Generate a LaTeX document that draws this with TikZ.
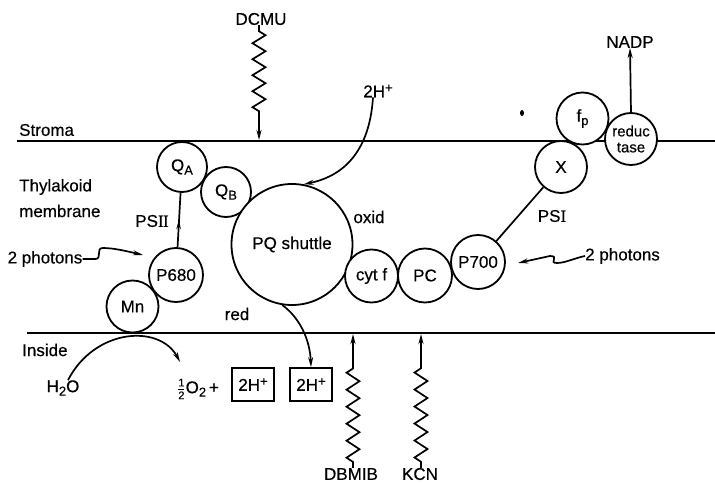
\documentclass[tikz,border=0pt]{standalone}
\usepackage{fontspec}
\setmainfont{Liberation Sans}[FakeBold=0.4]
\newfontfamily\romanfont{Liberation Serif}[FakeBold=0.4]
\usetikzlibrary{arrows.meta,decorations.pathmorphing,decorations.markings}
\newcommand\mysub[1]{\raisebox{-3.5pt}{\fontsize{13}{13}\selectfont #1}}
\newcommand\mysup[1]{\raisebox{5pt}{\fontsize{13}{13}\selectfont #1}}
\begin{document}
\begin{tikzpicture}[x=1pt,y=-1pt,
  every node/.style={font=\fontsize{17}{20}\selectfont, inner sep=0pt},
  circ/.style={draw, circle, fill=white, line width=1.8pt},
  hbox/.style={draw, rectangle, line width=1.7pt, minimum width=42pt, minimum height=33pt},
  ln/.style={line width=1.7pt},
  tip/.style={-{Stealth[length=10pt,width=5pt]}},
  zz/.style={decorate, decoration={zigzag, segment length=#1, amplitude=6.5pt, pre length=6pt, post length=28pt}}
]
\fill[white] (0,0) rectangle (715,484);
\useasboundingbox (0,0) rectangle (715,484);

% membranes
\draw[ln] (17,141) -- (715,141);
\draw[ln] (27,333) -- (715,333);

% labels
\node[anchor=west] (stroma) at (19,130) {Stroma};
\node[anchor=west] (thy) at (19,187) {Thylakoid};
\node[anchor=west] (mem) at (19,211) {membrane};
\node[anchor=west] (inside) at (22,350) {Inside};
\node (ps2) at (152,221) {PS{\romanfont I\kern-0.6pt I}};
\node (ps1) at (552,216) {PS{\romanfont I}};
\node (ph1) at (45,259) {2 photons};
\node[anchor=west] (ph2) at (585,256) {2 photons};
\node (redl) at (237,314) {red};
\node (oxid) at (369,217) {oxid};
\node (dcmu) at (261,19) {DCMU};
\node (nadp) at (630,42) {NADP};
\node (h2top) at (378,91) {2H\mysup{+}};
\node (h2o) at (63,388) {H\mysub{2}O};
\node (o2) at (198,389) {$\frac{\mbox{\fontsize{11}{11}\selectfont 1}}{\mbox{\fontsize{11}{11}\selectfont 2}}$O\mysub{2}\,+};
\node[hbox] (box1) at (253,384.5) {2H\mysup{+}};
\node[hbox] (box2) at (311,384.5) {2H\mysup{+}};
\node (dbmib) at (351,474) {DBMIB};
\node (kcn) at (420,474) {KCN};

% circles
\node[circ, minimum size=50pt] (qa) at (182,167) {Q\mysub{A}};
\node[circ, minimum size=50pt] (qb) at (226,192) {Q\mysub{B}};
\node[circ, minimum size=121pt] (pq) at (292,244.5) {PQ shuttle};
\node[circ, minimum size=53pt] (cytf) at (371.5,276) {cyt f};
\node[circ, minimum size=54pt] (pc) at (425,275.5) {PC};
\node[circ, minimum size=54pt] (p700) at (478,262) {P700};
\node[circ, minimum size=54pt] (p680) at (176,275) {P680};
\node[circ, minimum size=52pt] (mn) at (132.5,306.5) {Mn};
\node[circ, minimum size=52pt] (x) at (561,167) {X};
\node[circ, minimum size=52pt] (fp) at (582.5,118.5) {f\mysub{p}};
\node[circ, minimum size=52pt, align=center, font=\fontsize{15}{16}\selectfont] (rdt) at (631,139) {reduc\\tase};

% free ends
\coordinate (dcmuT) at (259,140);
\coordinate (dbmibT) at (353,334);
\coordinate (kcnT) at (421,334);
\coordinate (o2T) at (180,362);
\coordinate (p680T) at (143,255);
\coordinate (p700T) at (518,263);

% connectors
\draw[ln, postaction={decorate}, decoration={markings, mark=at position 0.5 with {\arrow{Stealth[length=9pt,width=4.5pt]}}}] (p680) -- (qa);
\draw[ln] (x) -- (p700);
\draw[ln, tip] (rdt.north) -- (nadp.south);
\draw[ln, tip] ([xshift=-5pt]h2top.south) .. controls (369,160) and (335,178) .. (pq.79);
\draw[ln, tip] (pq.-99) .. controls (300,318) and (310,340) .. (box2.north);
\draw[ln, tip] ([xshift=5pt]h2o.north) .. controls (95,328) and (160,324) .. (o2T);
\draw[ln, tip] (ph1.east) -- (95,259) .. controls (103,259) and (95,248) .. (103,248) .. controls (115,248) and (130,252) .. (p680T);
\draw[ln, tip] (ph2.west) .. controls (575,258) and (565,263) .. (557,263) .. controls (548,263) and (560,256) .. (550,256) -- (p700T);

% inhibitors
\draw[ln, tip, zz=16pt] (dcmu.south -| dcmuT) -- (dcmuT);
\draw[ln, tip, zz=17pt] (dbmib.north -| dbmibT) -- (dbmibT);
\draw[ln, tip, zz=17pt] (kcn.north -| kcnT) -- (kcnT);

% speck
\fill (522,113) ellipse [x radius=2pt, y radius=3pt];
\end{tikzpicture}
\end{document}
